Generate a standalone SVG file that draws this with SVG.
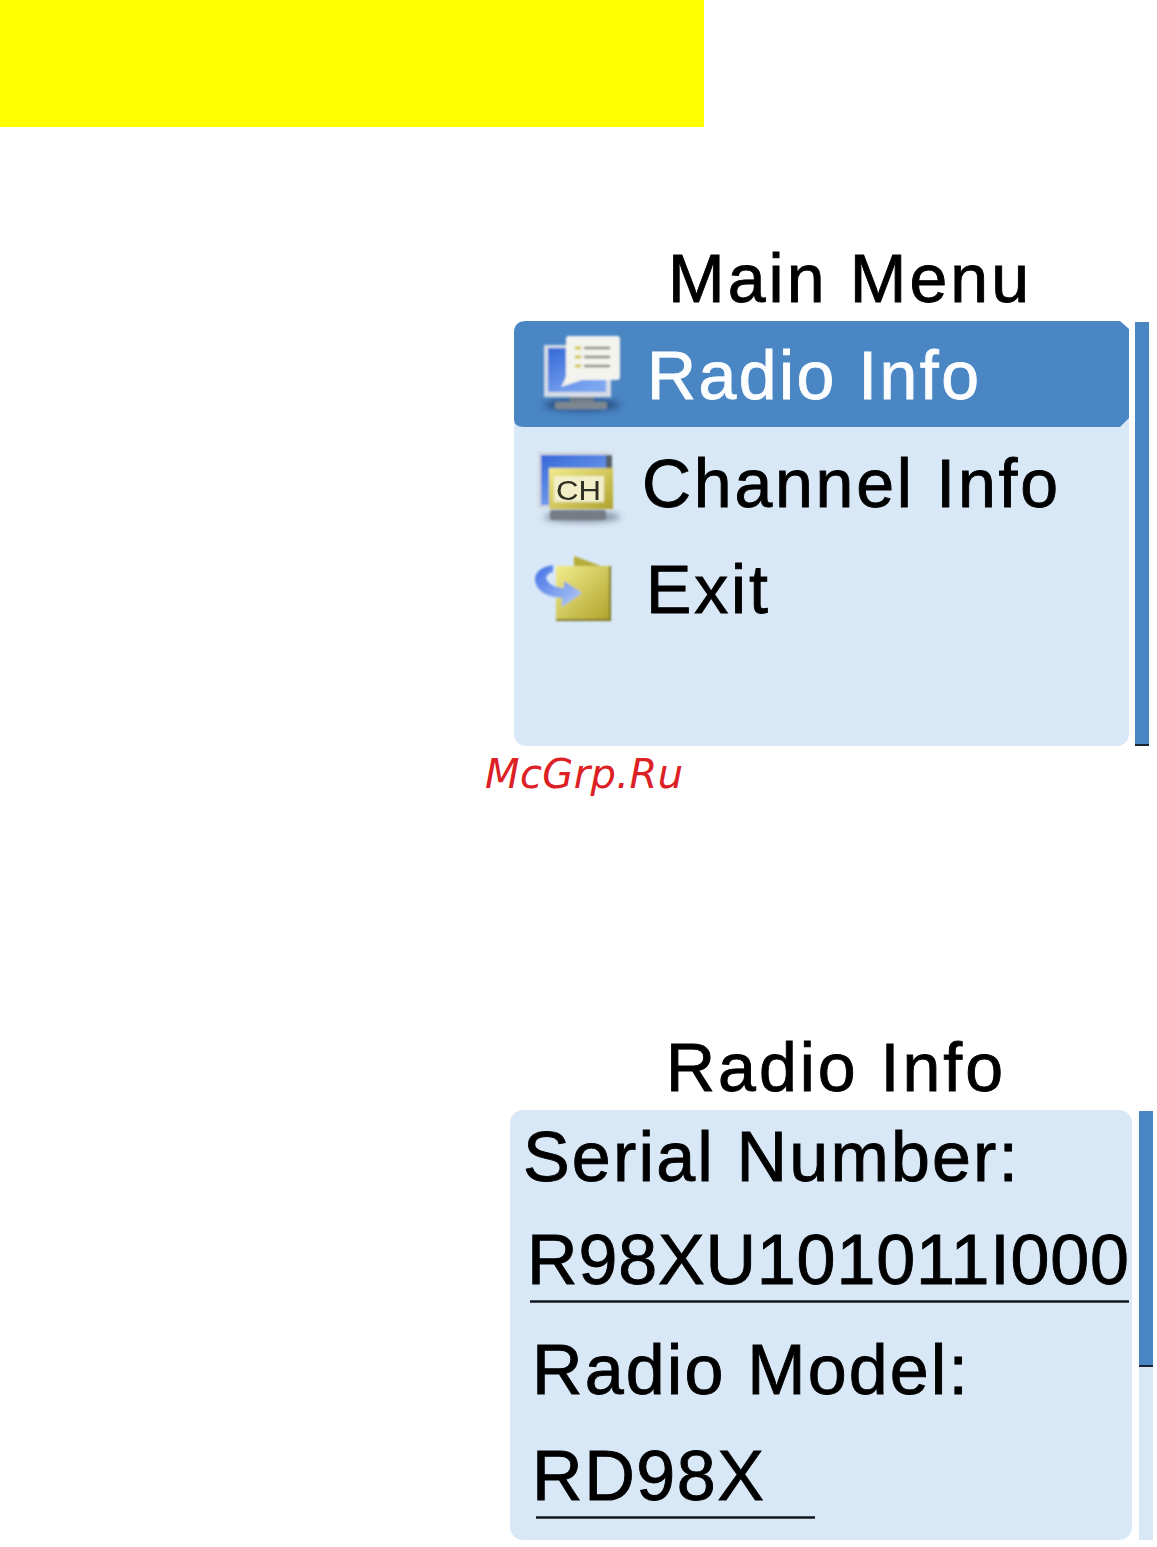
<svg xmlns="http://www.w3.org/2000/svg" width="1157" height="1547" viewBox="0 0 1157 1547">
<style>
.ar{font-family:"Liberation Sans",Arial,sans-serif;fill:#000;stroke:#000;stroke-width:.9}
.panel{fill:#d9e8f6}
.bar{fill:#4a85c4}
.rule{stroke:#12161c;stroke-width:2.500;fill:none}
.soft{filter:url(#soft)}
</style>
<defs>
<filter id="soft" x="-5%" y="-10%" width="110%" height="120%"><feGaussianBlur stdDeviation="0.75"/></filter>
<filter id="ib" x="-10%" y="-10%" width="120%" height="120%"><feGaussianBlur stdDeviation="0.8"/></filter>
<filter id="sh" x="-30%" y="-50%" width="160%" height="200%"><feGaussianBlur stdDeviation="3"/></filter>
<linearGradient id="scr" x1="0" y1="0" x2="0.6" y2="1"><stop offset="0" stop-color="#3568d8"/><stop offset="1" stop-color="#7ca6f0"/></linearGradient>
<linearGradient id="yel" x1="0" y1="0" x2="1" y2="1"><stop offset="0" stop-color="#f2ec8c"/><stop offset="1" stop-color="#b0a32c"/></linearGradient>
<linearGradient id="arr" x1="0" y1="0" x2="1" y2="1"><stop offset="0" stop-color="#3f6fe6"/><stop offset="1" stop-color="#b8cef6"/></linearGradient>
</defs>
<rect id="banner" x="0" y="0" width="704" height="127" fill="#ffff00"/>

<g id="main-menu">
<text class="ar soft" x="668" y="302" font-size="68" textLength="361">Main Menu</text>
<rect class="panel" x="514" y="322" width="615" height="424" rx="12"/>
<path class="bar" d="M526 321H1120L1129 329V418L1120 427H524Q514 427 514 419V333Q514 321 526 321Z"/>
<rect class="bar" x="1135" y="322" width="14" height="422"/>
<rect x="1135" y="744" width="14" height="2" fill="#1a2533"/>
</g>

<g id="item-radio-info">
<g filter="url(#ib)">
<ellipse cx="582" cy="405" rx="38" ry="6" fill="#1f3f70" opacity=".8" filter="url(#sh)"/>
<rect x="544" y="345" width="67" height="52" fill="#d5dce6"/>
<rect x="548" y="348" width="58" height="44" fill="url(#scr)"/>
<rect x="570" y="397" width="24" height="5" fill="#6d7a86"/>
<rect x="555" y="402" width="52" height="7" rx="2" fill="#7e8790"/>
<path d="M569 336H617Q620 336 620 339V377Q620 380 617 380H582L561 387Q565 380 566 376V339Q566 336 569 336Z" fill="#f4f4ee"/>
<path d="M575 348H581M575 357H581M575 366H581" stroke="#cfc43a" stroke-width="3"/>
<path d="M584 348H610M584 357H610M584 366H610" stroke="#85857f" stroke-width="2.500"/>
</g>
<text class="soft" x="647" y="399" font-size="68" textLength="332" font-family="Liberation Sans, Arial, sans-serif" fill="#fbfdff" stroke="#fbfdff" stroke-width=".9">Radio Info</text>
</g>

<g id="item-channel-info">
<g filter="url(#ib)">
<ellipse cx="582" cy="517" rx="38" ry="5" fill="#4a5a70" opacity=".7" filter="url(#sh)"/>
<rect x="538" y="452" width="72" height="56" fill="#cfd6e0"/>
<rect x="541" y="455" width="65" height="50" fill="url(#scr)"/>
<rect x="606" y="455" width="6" height="20" fill="#565f6a"/>
<rect x="550" y="510" width="56" height="10" rx="2" fill="#757c84"/>
<rect x="549" y="468" width="64" height="41" fill="url(#yel)"/>
<rect x="554" y="476" width="50" height="26" fill="#f1eec8"/>
</g>
<text class="soft" x="556" y="500" font-size="28" textLength="45" lengthAdjust="spacingAndGlyphs" font-family="Liberation Sans, Arial, sans-serif" fill="#2d2d20">CH</text>
<text class="ar soft" x="642" y="507" font-size="68" textLength="416">Channel Info</text>
</g>

<g id="item-exit">
<g filter="url(#ib)">
<path d="M574 556L606 568H574Z" fill="#b5ab35"/>
<rect x="556" y="566" width="54" height="54" fill="url(#yel)"/>
<path d="M610 566V620H556" fill="none" stroke="#7c7628" stroke-width="2"/>
<path d="M553 565Q535 568 535 580Q537 596 562 598V607L582 593L564 581V588Q549 587 546 578Q547 573 553 572Z" fill="url(#arr)"/>
</g>
<text class="ar soft" x="646" y="613" font-size="68" textLength="122">Exit</text>
</g>

<g id="watermark">
<text x="485" y="788" font-size="40" textLength="198" font-family="DejaVu Sans, Verdana, sans-serif" font-style="oblique" fill="#dc2024">McGrp.Ru</text>
</g>

<g id="radio-info">
<text class="ar soft" x="666" y="1091" font-size="68" textLength="337">Radio Info</text>
<rect class="panel" x="510" y="1110" width="622" height="430" rx="13"/>
<rect class="panel" x="1139" y="1111" width="14" height="429"/>
<rect class="bar" x="1139" y="1111" width="14" height="254"/>
<rect x="1139" y="1365" width="14" height="2" fill="#1a2533"/>
<text class="ar soft" x="523" y="1181" font-size="70" textLength="495">Serial Number:</text>
<text class="ar soft" x="527" y="1284" font-size="70" textLength="602">R98XU101011I000</text>
<path class="rule" d="M530 1301.500H1129"/>
<text class="ar soft" x="532" y="1394" font-size="70" textLength="436">Radio Model:</text>
<text class="ar soft" x="532" y="1500" font-size="70" textLength="232">RD98X</text>
<path class="rule" d="M536 1517.500H815"/>
</g>
</svg>
